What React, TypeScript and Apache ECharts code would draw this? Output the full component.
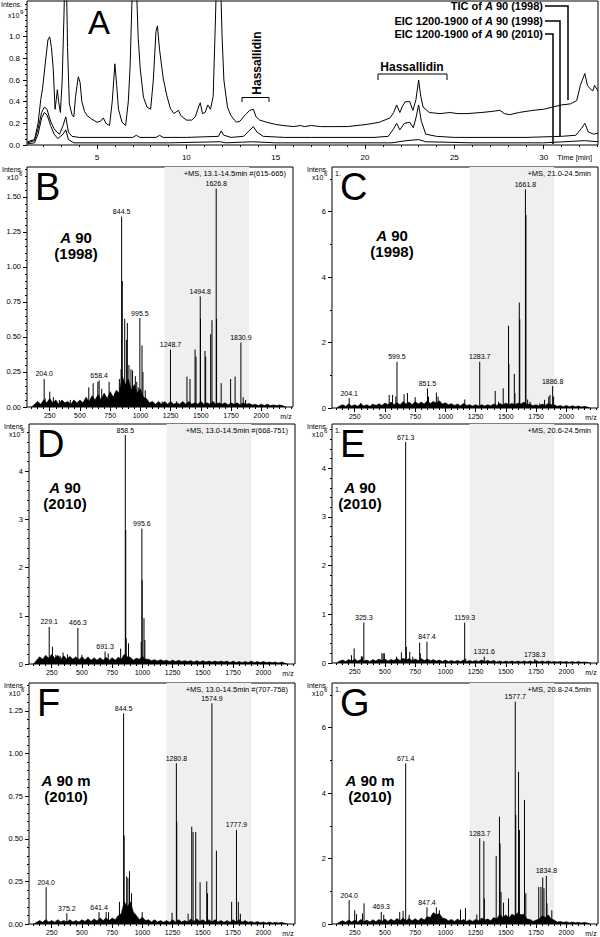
import React, { useEffect, useRef } from "react";
import * as echarts from "echarts";

const FONT = '"Liberation Sans", Arial, Helvetica, sans-serif';

// ---------- Panel A : chromatograms  [time (min), intensity x10^9]
const ticA90_1998: number[][] = [
  [1.1, 0.03], [1.5, 0.05], [1.7, 0.2], [1.85, 0.42], [1.95, 0.52], [2.1, 0.75], [2.25, 0.97], [2.35, 1.0], [2.45, 0.9],
  [2.55, 0.7], [2.65, 0.33], [2.72, 0.42], [2.78, 0.51], [2.85, 0.4], [2.95, 0.3], [3.05, 0.6], [3.15, 1.2], [3.2, 1.6],
  [3.28, 1.6], [3.35, 0.9], [3.45, 0.38], [3.6, 0.28], [3.7, 0.26], [3.8, 0.45], [3.95, 0.63], [4.05, 0.58], [4.15, 0.4],
  [4.3, 0.31], [4.45, 0.27], [4.7, 0.24], [5.0, 0.21], [5.2, 0.22], [5.35, 0.25], [5.5, 0.2], [5.7, 0.18], [5.85, 0.4],
  [6.0, 0.75], [6.1, 0.55], [6.2, 0.33], [6.4, 0.21], [6.6, 0.18], [6.75, 0.4], [6.85, 0.72], [6.95, 1.3], [7.05, 1.6],
  [7.2, 1.5], [7.3, 1.0], [7.42, 0.7], [7.6, 0.44], [7.8, 0.35], [8.0, 0.33], [8.15, 0.6], [8.3, 1.05], [8.38, 1.1],
  [8.5, 0.88], [8.7, 0.62], [8.9, 0.46], [9.1, 0.34], [9.3, 0.29], [9.55, 0.32], [9.7, 0.27], [10.0, 0.23], [10.3, 0.23],
  [10.5, 0.26], [10.7, 0.36], [10.78, 0.39], [10.9, 0.29], [11.05, 0.3], [11.2, 0.37], [11.35, 0.33], [11.5, 0.45],
  [11.6, 1.0], [11.7, 1.6], [11.9, 1.6], [12.0, 1.0], [12.1, 0.6], [12.3, 0.35], [12.5, 0.27], [12.8, 0.21], [13.0, 0.22],
  [13.3, 0.28], [13.55, 0.32], [13.75, 0.33], [13.9, 0.26], [14.1, 0.23], [14.5, 0.21], [15.0, 0.19], [15.4, 0.18],
  [16.0, 0.17], [16.4, 0.18], [16.6, 0.17], [17.0, 0.18], [17.5, 0.17], [18.2, 0.17], [19.0, 0.17], [20.1, 0.19],
  [20.8, 0.21], [21.4, 0.25], [21.6, 0.3], [21.77, 0.37], [21.95, 0.3], [22.1, 0.36], [22.25, 0.4], [22.5, 0.4],
  [22.68, 0.32], [22.85, 0.42], [23.0, 0.6], [23.12, 0.45], [23.25, 0.35], [23.6, 0.3], [24.2, 0.29], [24.75, 0.3],
  [25.2, 0.29], [25.7, 0.29], [26.5, 0.3], [27.1, 0.31], [27.55, 0.32], [27.8, 0.29], [28.1, 0.28], [28.6, 0.3],
  [29.4, 0.32], [30.0, 0.33], [30.5, 0.35], [31.0, 0.37], [31.5, 0.38], [31.85, 0.41], [32.05, 0.55], [32.3, 0.66],
  [32.45, 0.55], [32.6, 0.52], [32.75, 0.5], [32.85, 0.55], [33.04, 0.5],
];
const eicA90_1998: number[][] = [
  [1.1, 0.02], [1.5, 0.04], [1.7, 0.15], [1.9, 0.3], [2.05, 0.35], [2.2, 0.33], [2.4, 0.22], [2.6, 0.15], [2.75, 0.12],
  [2.9, 0.1], [3.1, 0.18], [3.25, 0.26], [3.4, 0.12], [3.6, 0.08], [4.0, 0.07], [5.0, 0.07], [6.0, 0.07], [7.0, 0.07],
  [7.2, 0.09], [7.4, 0.07], [8.3, 0.07], [8.5, 0.09], [8.7, 0.07], [10.0, 0.07], [11.8, 0.08], [11.95, 0.13], [12.1, 0.09],
  [12.5, 0.07], [13.2, 0.08], [13.5, 0.13], [13.75, 0.17], [13.95, 0.12], [14.3, 0.08], [15.5, 0.07], [17.0, 0.07],
  [19.0, 0.07], [20.5, 0.07], [21.3, 0.08], [21.6, 0.15], [21.77, 0.2], [21.95, 0.14], [22.2, 0.2], [22.5, 0.21],
  [22.7, 0.16], [22.85, 0.25], [23.0, 0.37], [23.15, 0.22], [23.4, 0.1], [24.0, 0.08], [25.0, 0.07], [27.0, 0.07],
  [29.0, 0.07], [31.0, 0.08], [31.8, 0.09], [32.1, 0.15], [32.3, 0.2], [32.5, 0.12], [32.8, 0.1], [33.04, 0.11],
];
const eicA90_2010: number[][] = [
  [1.1, 0.01], [1.5, 0.02], [1.7, 0.1], [1.9, 0.25], [2.05, 0.3], [2.2, 0.28], [2.4, 0.18], [2.6, 0.1], [2.8, 0.06],
  [3.1, 0.1], [3.25, 0.14], [3.4, 0.05], [3.7, 0.02], [5.0, 0.02], [7.0, 0.02], [9.0, 0.02], [11.9, 0.03], [12.2, 0.02],
  [13.7, 0.03], [15.0, 0.02], [18.0, 0.02], [21.5, 0.02], [22.3, 0.04], [23.0, 0.05], [23.4, 0.03], [26.0, 0.02],
  [30.0, 0.02], [32.3, 0.04], [33.04, 0.03],
];
const timeLabels = [5, 10, 15, 20, 25, 30];
const aYLabels = [0, 0.2, 0.4, 0.6, 0.8, 1.0];

// ---------- Mass spectra  [m/z, intensity]
const mzLabels = [250, 500, 750, 1000, 1250, 1500, 1750, 2000];
// baseline "grass" heights, read every 25 m/z from m/z 100 to 2200
const GRASS_START = 100;
const GRASS_STEP = 25;

// B: A 90 (1998), 13.1-14.5 min, x10^6
const bPeaks = [[204.0, 0.2], [658.4, 0.19], [844.5, 1.36], [995.5, 0.635], [1248.7, 0.41], [1494.8, 0.79], [1626.8, 1.56], [1830.9, 0.46]];
const bSticks = [
  [213, 0.06], [250, 0.11], [280, 0.07], [330, 0.05], [420, 0.05], [573, 0.14], [609, 0.17], [648, 0.18], [680, 0.13],
  [741, 0.18], [790, 0.1], [826, 0.2], [840, 0.27], [850, 0.9], [870, 0.63], [884, 0.48], [892, 0.6], [905, 0.3],
  [922, 0.27], [935, 0.26], [958, 0.22], [970, 0.18], [982, 0.14], [1013, 0.44], [1021, 0.25], [1040, 0.12],
  [1180, 0.04], [1300, 0.04], [1385, 0.217], [1410, 0.2], [1452, 0.41], [1460, 0.36], [1497, 0.63], [1534, 0.4],
  [1540, 0.36], [1581, 0.52], [1592, 0.62], [1630, 0.63], [1668, 0.17], [1746, 0.2], [1783, 0.217], [1850, 0.07], [1870, 0.05],
];
const bGrass = [
  0, 0.02, 0.04, 0.02, 0.05, 0.03, 0.06, 0.03, 0.05, 0.02, 0.05, 0.03, 0.04, 0.02, 0.05, 0.03, 0.05, 0.03, 0.07, 0.04,
  0.08, 0.05, 0.09, 0.05, 0.1, 0.06, 0.11, 0.07, 0.12, 0.1, 0.22, 0.16, 0.2, 0.12, 0.16, 0.1, 0.13, 0.07, 0.06, 0.03,
  0.04, 0.02, 0.04, 0.02, 0.04, 0.02, 0.04, 0.02, 0.03, 0.02, 0.04, 0.02, 0.04, 0.02, 0.03, 0.02, 0.04, 0.02, 0.03, 0.02,
  0.04, 0.02, 0.03, 0.02, 0.03, 0.015, 0.03, 0.02, 0.03, 0.015, 0.03, 0.02, 0.025, 0.015, 0.02, 0.01, 0.02, 0.01, 0.02, 0.01,
  0.015, 0.01, 0.015, 0.01, 0,
];

// C: A 90 (1998), 21.0-24.5 min, x10^6
const cPeaks = [[204.1, 0.3], [599.5, 1.41], [851.5, 0.6], [1283.7, 1.41], [1661.8, 6.68], [1886.8, 0.67]];
const cSticks = [
  [300, 0.15], [420, 0.1], [535, 0.4], [563, 0.4], [590, 0.35], [658, 0.42], [686, 0.46], [750, 0.33], [860, 0.35],
  [925, 0.47], [939, 0.35], [1160, 0.26], [1412, 0.52], [1440, 0.19], [1478, 0.6], [1522, 2.51], [1525, 1.34],
  [1570, 1.04], [1575, 0.45], [1611, 3.22], [1615, 2.71], [1666, 5.9], [1680, 0.26], [1700, 0.19], [1780, 0.14],
  [1820, 0.25], [1855, 0.35], [1865, 0.4], [1895, 0.35],
];
const cGrass = [
  0, 0.06, 0.1, 0.05, 0.12, 0.06, 0.1, 0.05, 0.13, 0.06, 0.1, 0.05, 0.12, 0.07, 0.13, 0.08, 0.15, 0.1, 0.18, 0.1,
  0.16, 0.1, 0.2, 0.12, 0.18, 0.1, 0.2, 0.12, 0.18, 0.12, 0.22, 0.14, 0.2, 0.15, 0.22, 0.12, 0.16, 0.1, 0.13, 0.08,
  0.12, 0.07, 0.14, 0.08, 0.1, 0.06, 0.1, 0.06, 0.1, 0.06, 0.1, 0.07, 0.12, 0.08, 0.14, 0.09, 0.15, 0.1, 0.14, 0.1,
  0.15, 0.12, 0.18, 0.1, 0.12, 0.07, 0.1, 0.06, 0.12, 0.08, 0.14, 0.1, 0.1, 0.05, 0.08, 0.04, 0.08, 0.04, 0.07, 0.04,
  0.06, 0.03, 0.05, 0.03, 0,
];

// D: A 90 (2010), 13.0-14.5 min, x10^5
const dPeaks = [[229.1, 0.77], [466.3, 0.75], [691.3, 0.26], [858.5, 4.75], [995.6, 2.81]];
const dSticks = [
  [207, 0.15], [256, 0.36], [284, 0.19], [320, 0.17], [344, 0.24], [380, 0.2], [500, 0.19], [550, 0.15], [717, 0.22],
  [820, 0.32], [862, 2.78], [866, 0.53], [885, 0.43], [990, 0.46], [998, 1.74], [1013, 0.95], [1020, 0.5],
];
const dGrass = [
  0, 0.08, 0.15, 0.1, 0.18, 0.12, 0.2, 0.12, 0.18, 0.1, 0.17, 0.1, 0.16, 0.1, 0.15, 0.09, 0.15, 0.09, 0.14, 0.08,
  0.13, 0.08, 0.13, 0.08, 0.14, 0.08, 0.13, 0.08, 0.14, 0.1, 0.2, 0.15, 0.14, 0.08, 0.12, 0.1, 0.16, 0.1, 0.1, 0.07,
  0.09, 0.06, 0.09, 0.06, 0.08, 0.05, 0.08, 0.05, 0.08, 0.05, 0.07, 0.05, 0.07, 0.04, 0.07, 0.04, 0.07, 0.04, 0.06, 0.04,
  0.06, 0.04, 0.06, 0.04, 0.06, 0.03, 0.06, 0.03, 0.05, 0.03, 0.05, 0.03, 0.06, 0.03, 0.05, 0.03, 0.05, 0.03, 0.04, 0.03,
  0.04, 0.02, 0.04, 0.02, 0,
];

// E: A 90 (2010), 20.6-24.5 min, x10^6
const ePeaks = [[325.3, 0.83], [671.3, 4.54], [847.4, 0.44], [1159.3, 0.83], [1321.6, 0.13], [1738.3, 0.08]];
const eSticks = [
  [223, 0.16], [245, 0.3], [305, 0.14], [315, 0.13], [475, 0.2], [485, 0.2], [495, 0.2], [595, 0.13], [636, 0.22],
  [677, 0.33], [705, 0.23], [730, 0.13], [787, 0.42], [792, 0.2], [870, 0.07], [1168, 0.09],
];
const eGrass = [
  0, 0.04, 0.06, 0.03, 0.07, 0.04, 0.08, 0.04, 0.07, 0.04, 0.06, 0.03, 0.07, 0.04, 0.08, 0.05, 0.08, 0.04, 0.07, 0.05,
  0.09, 0.05, 0.1, 0.06, 0.09, 0.05, 0.08, 0.05, 0.09, 0.05, 0.08, 0.04, 0.07, 0.04, 0.06, 0.03, 0.06, 0.03, 0.05, 0.03,
  0.05, 0.03, 0.06, 0.03, 0.05, 0.03, 0.05, 0.03, 0.06, 0.03, 0.05, 0.03, 0.05, 0.02, 0.04, 0.02, 0.04, 0.02, 0.04, 0.02,
  0.04, 0.02, 0.04, 0.02, 0.04, 0.02, 0.05, 0.02, 0.04, 0.02, 0.04, 0.02, 0.03, 0.02, 0.03, 0.02, 0.03, 0.015, 0.03, 0.015,
  0.03, 0.015, 0.02, 0.015, 0,
];

// F: A 90 m (2010), 13.0-14.5 min, x10^6
const fPeaks = [[204.0, 0.215], [375.2, 0.063], [641.4, 0.07], [844.5, 1.236], [1280.8, 0.943], [1574.9, 1.295], [1777.9, 0.552]];
const fSticks = [
  [700, 0.07], [720, 0.07], [810, 0.13], [849, 0.52], [870, 0.28], [880, 0.27], [893, 0.31], [910, 0.18], [998, 0.07],
  [1245, 0.066], [1284, 0.6], [1378, 0.06], [1408, 0.571], [1419, 0.54], [1441, 0.54], [1477, 0.245], [1532, 0.25],
  [1538, 0.18], [1612, 0.43], [1738, 0.13], [1793, 0.13], [1810, 0.06],
];
const fGrass = [
  0, 0.01, 0.02, 0.01, 0.025, 0.012, 0.02, 0.01, 0.025, 0.012, 0.02, 0.012, 0.025, 0.012, 0.02, 0.012, 0.025, 0.015, 0.03, 0.015,
  0.03, 0.018, 0.035, 0.02, 0.035, 0.02, 0.035, 0.025, 0.05, 0.06, 0.13, 0.1, 0.13, 0.07, 0.05, 0.025, 0.04, 0.02, 0.025, 0.012,
  0.025, 0.012, 0.02, 0.01, 0.02, 0.01, 0.025, 0.012, 0.025, 0.012, 0.02, 0.012, 0.03, 0.015, 0.03, 0.015, 0.025, 0.012, 0.025, 0.012,
  0.025, 0.012, 0.02, 0.01, 0.02, 0.01, 0.025, 0.012, 0.025, 0.012, 0.02, 0.01, 0.015, 0.008, 0.015, 0.008, 0.012, 0.006, 0.012, 0.006,
  0.01, 0.006, 0.01, 0.005, 0,
];

// G: A 90 m (2010), 20.8-24.5 min, x10^6
const gPeaks = [[204.0, 0.73], [469.3, 0.37], [671.4, 4.9], [847.4, 0.51], [1283.7, 2.62], [1577.7, 6.79], [1834.8, 1.47]];
const gSticks = [
  [250, 0.42], [265, 0.3], [314, 0.32], [327, 0.63], [490, 0.28], [622, 0.37], [650, 0.4], [700, 0.28], [925, 0.51],
  [950, 0.42], [1125, 0.44], [1166, 0.49], [1260, 0.29], [1318, 2.53], [1322, 0.78], [1420, 2.08], [1447, 3.28],
  [1452, 2.46], [1460, 0.98], [1480, 0.65], [1522, 0.78], [1582, 3.33], [1605, 4.65], [1612, 2.87], [1654, 3.79],
  [1665, 0.94], [1772, 1.13], [1790, 1.13], [1805, 1.42], [1815, 1.09], [1840, 0.63], [1880, 0.42],
];
const gGrass = [
  0, 0.06, 0.1, 0.05, 0.12, 0.06, 0.12, 0.06, 0.14, 0.07, 0.12, 0.06, 0.13, 0.07, 0.14, 0.08, 0.15, 0.08, 0.15, 0.09,
  0.17, 0.1, 0.18, 0.1, 0.17, 0.1, 0.16, 0.1, 0.18, 0.12, 0.22, 0.2, 0.35, 0.28, 0.32, 0.18, 0.16, 0.1, 0.14, 0.08,
  0.15, 0.09, 0.14, 0.08, 0.13, 0.08, 0.14, 0.1, 0.18, 0.12, 0.15, 0.1, 0.2, 0.15, 0.3, 0.2, 0.28, 0.18, 0.3, 0.25,
  0.35, 0.28, 0.3, 0.15, 0.14, 0.08, 0.12, 0.15, 0.25, 0.2, 0.28, 0.15, 0.12, 0.06, 0.08, 0.05, 0.07, 0.04, 0.06, 0.04,
  0.05, 0.03, 0.05, 0.03, 0,
];

function ticksBetween(a: number, b: number, s: number) {
  const r: number[] = [];
  for (let i = 0; a + i * s <= b + 1e-9; i++) r.push(Math.round((a + i * s) * 1000) / 1000);
  return r;
}

type Panel = {
  letter: string; left: number; top: number; width: number; height: number; yMax: number;
  yLabels: number[]; yStep: number; dec: number; exp: string;
  peaks: number[][]; sticks: number[][]; grass: number[];
  header: string; one: boolean; line1: string; line2: string; sx: number; sy: number;
};

const panels: Panel[] = [
  { letter: "B", left: 27, top: 167, width: 266, height: 240, yMax: 1.714, yLabels: [0, 0.25, 0.5, 0.75, 1, 1.25, 1.5], yStep: 0.05, dec: 2, exp: "6",
    peaks: bPeaks, sticks: bSticks, grass: bGrass, header: "+MS, 13.1-14.5min #(615-665)", one: false, line1: "{i|A} 90", line2: "(1998)", sx: 76, sy: 237 },
  { letter: "C", left: 332, top: 167, width: 266, height: 241, yMax: 7.36, yLabels: [0, 2, 4, 6], yStep: 1, dec: 0, exp: "6",
    peaks: cPeaks, sticks: cSticks, grass: cGrass, header: "+MS, 21.0-24.5min", one: true, line1: "{i|A} 90", line2: "(1998)", sx: 392, sy: 235 },
  { letter: "D", left: 29, top: 424, width: 266, height: 240, yMax: 4.98, yLabels: [0, 1, 2, 3, 4], yStep: 0.2, dec: 0, exp: "5",
    peaks: dPeaks, sticks: dSticks, grass: dGrass, header: "+MS, 13.0-14.5min #(668-751)", one: false, line1: "{i|A} 90", line2: "(2010)", sx: 65, sy: 487 },
  { letter: "E", left: 332, top: 424, width: 266, height: 239, yMax: 4.91, yLabels: [0, 1, 2, 3, 4], yStep: 0.2, dec: 0, exp: "6",
    peaks: ePeaks, sticks: eSticks, grass: eGrass, header: "+MS, 20.6-24.5min", one: true, line1: "{i|A} 90", line2: "(2010)", sx: 360, sy: 487 },
  { letter: "F", left: 29, top: 683, width: 266, height: 241, yMax: 1.414, yLabels: [0, 0.25, 0.5, 0.75, 1, 1.25], yStep: 0.05, dec: 2, exp: "6",
    peaks: fPeaks, sticks: fSticks, grass: fGrass, header: "+MS, 13.0-14.5min #(707-758)", one: false, line1: "{i|A} 90 m", line2: "(2010)", sx: 66, sy: 780 },
  { letter: "G", left: 332, top: 683, width: 266, height: 241, yMax: 7.36, yLabels: [0, 2, 4, 6], yStep: 1, dec: 0, exp: "6",
    peaks: gPeaks, sticks: gSticks, grass: gGrass, header: "+MS, 20.8-24.5min", one: true, line1: "{i|A} 90 m", line2: "(2010)", sx: 370, sy: 780 },
];

const MZ_MIN = 62;
const MZ_MAX = 2262;

function axisPair(dim: "x" | "y", gi: number, min: number, max: number, labels: number[], ticks: number[],
  fmt: (v: number) => string, margin: number, fontSize: number) {
  const base: any = {
    type: "value", gridIndex: gi, min, max, position: dim === "x" ? "bottom" : "left",
    splitLine: { show: false }, axisLine: { show: false },
  };
  return [
    { ...base, axisTick: { show: true, length: 4, customValues: labels, lineStyle: { color: "#000", width: 1 } },
      axisLabel: { show: true, customValues: labels, margin, fontSize, color: "#000", fontFamily: FONT, formatter: fmt } },
    { ...base, axisTick: { show: true, length: 2, customValues: ticks, lineStyle: { color: "#000", width: 1 } },
      axisLabel: { show: false } },
  ];
}

function stickRender(params: any, api: any) {
  const x = api.value(0);
  const y = api.value(1);
  const a = api.coord([x, 0]);
  const b = api.coord([x, y]);
  return { type: "line", shape: { x1: a[0], y1: a[1], x2: b[0], y2: b[1] }, style: { stroke: "#000", lineWidth: 1 } };
}

function peakRender(params: any, api: any) {
  const x = api.value(0);
  const y = api.value(1);
  const a = api.coord([x, 0]);
  const b = api.coord([x, y]);
  return {
    type: "group",
    children: [
      { type: "line", shape: { x1: a[0], y1: a[1], x2: b[0], y2: b[1] }, style: { stroke: "#000", lineWidth: 1 } },
      { type: "text", x: b[0], y: b[1] - 1.5,
        style: { text: Number(x).toFixed(1), fill: "#000", fontSize: 7, fontFamily: FONT, align: "center", verticalAlign: "bottom" } },
    ],
  };
}

function txt(x: number, y: number, text: string, o: any = {}) {
  return {
    type: "text", x, y, z: 100, silent: true, rotation: o.rotation || 0,
    style: {
      text, fill: "#000", fontFamily: FONT, fontSize: o.fontSize || 8, fontWeight: o.fontWeight || "normal",
      align: o.align || "left", verticalAlign: o.verticalAlign || "middle", rich: o.rich,
    },
  };
}

function poly(points: number[][], w: number) {
  return { type: "polyline", z: 100, silent: true, shape: { points }, style: { stroke: "#000", lineWidth: w, fill: null } };
}

function buildOption() {
  const grid: any[] = [];
  const xAxis: any[] = [];
  const yAxis: any[] = [];
  const series: any[] = [];
  const graphic: any[] = [];

  // ---- Panel A
  grid.push({ left: 27, top: 1, width: 571, height: 144, show: true, borderColor: "#000", borderWidth: 1, backgroundColor: "transparent" });
  xAxis.push(...axisPair("x", 0, 1.08, 33.04, timeLabels, ticksBetween(2, 33, 1), (v) => String(v), 8, 8));
  yAxis.push(...axisPair("y", 0, 0, 1.33, aYLabels, ticksBetween(0.05, 1.3, 0.05), (v) => v.toFixed(1), 7, 8));
  [ticA90_1998, eicA90_1998, eicA90_2010].forEach((d) => {
    series.push({ type: "line", xAxisIndex: 0, yAxisIndex: 0, data: d, symbol: "none", clip: true,
      lineStyle: { color: "#000", width: 1 }, z: 3, silent: true });
  });
  graphic.push(txt(88, 22, "A", { fontSize: 33 }));
  graphic.push(txt(1, 4, "Intens.", { fontSize: 7 }));
  graphic.push(txt(8, 15, "x10", { fontSize: 7 }));
  graphic.push(txt(20, 12, "9", { fontSize: 6 }));
  graphic.push(txt(592, 157, "Time [min]", { fontSize: 7.5, align: "right" }));
  const rich = { i: { fontStyle: "italic", fontWeight: "bold", fontSize: 11, fontFamily: FONT, fill: "#000" } };
  graphic.push(txt(543, 6, "TIC of {i|A} 90 (1998)", { fontSize: 11, fontWeight: "bold", align: "right", rich }));
  graphic.push(txt(543, 21, "EIC 1200-1900 of {i|A} 90 (1998)", { fontSize: 11, fontWeight: "bold", align: "right", rich }));
  graphic.push(txt(543, 34, "EIC 1200-1900 of {i|A} 90 (2010)", { fontSize: 11, fontWeight: "bold", align: "right", rich }));
  graphic.push(poly([[545, 6], [568, 6], [568, 100]], 1.5));
  graphic.push(poly([[545, 21], [560, 21], [560, 136]], 1.5));
  graphic.push(poly([[545, 34], [553, 34], [553, 144]], 1.5));
  graphic.push(txt(257, 63, "Hassallidin", { fontSize: 12, fontWeight: "bold", align: "center", rotation: Math.PI / 2 }));
  graphic.push(poly([[242, 102], [242, 97.5], [269, 97.5], [269, 102]], 1));
  graphic.push(txt(412, 67, "Hassallidin", { fontSize: 12, fontWeight: "bold", align: "center" }));
  graphic.push(poly([[378, 80], [378, 74], [447, 74], [447, 80]], 1));

  // ---- Spectra panels
  panels.forEach((p, k) => {
    const gi = k + 1;
    const ax = gi * 2;
    grid.push({ left: p.left, top: p.top, width: p.width, height: p.height, show: true, borderColor: "#000", borderWidth: 1, backgroundColor: "transparent" });
    xAxis.push(...axisPair("x", gi, MZ_MIN, MZ_MAX, mzLabels, ticksBetween(100, 2250, 50), (v) => String(v), 5, 7));
    yAxis.push(...axisPair("y", gi, 0, p.yMax, p.yLabels, ticksBetween(0, p.yMax, p.yStep), (v) => v.toFixed(p.dec), 6, 7.5));
    // shaded m/z window 1200-1900
    series.push({
      type: "line", xAxisIndex: ax, yAxisIndex: ax, data: [], symbol: "none", z: 0, silent: true,
      markArea: { silent: true, itemStyle: { color: "#efefef" }, data: [[{ xAxis: 1200 }, { xAxis: 1900 }]] },
    });
    series.push({
      type: "line", xAxisIndex: ax, yAxisIndex: ax, data: p.grass.map((v, i) => [GRASS_START + GRASS_STEP * i, v]),
      symbol: "none", z: 2, silent: true,
      lineStyle: { color: "#000", width: 0.6 }, areaStyle: { color: "#000", opacity: 1 },
    });
    series.push({
      type: "custom", xAxisIndex: ax, yAxisIndex: ax, data: p.sticks, renderItem: stickRender,
      clip: true, z: 3, silent: true,
    });
    series.push({
      type: "custom", xAxisIndex: ax, yAxisIndex: ax, data: p.peaks, renderItem: peakRender,
      clip: false, z: 4, silent: true,
    });
    const L = p.left, T = p.top, R = p.left + p.width, B = p.top + p.height;
    graphic.push(txt(L + 8, T + 20, p.letter, { fontSize: 38 }));
    graphic.push(txt(L - 25, T + 2, "Intens.", { fontSize: 7 }));
    graphic.push(txt(L - 20, T + 10.5, "x10", { fontSize: 7 }));
    graphic.push(txt(L - 8, T + 7, p.exp, { fontSize: 6 }));
    graphic.push(txt(R - 7, T + 6, p.header, { fontSize: 7.5, align: "right" }));
    if (p.one) graphic.push(txt(L + 3, T + 6, "1.", { fontSize: 7 }));
    graphic.push(txt(R - 7, B + 9, "m/z", { fontSize: 7, align: "center" }));
    const r2 = { i: { fontStyle: "italic", fontWeight: "bold", fontSize: 15, fontFamily: FONT, fill: "#000" } };
    graphic.push(txt(p.sx, p.sy, p.line1, { fontSize: 15, fontWeight: "bold", align: "center", rich: r2 }));
    graphic.push(txt(p.sx, p.sy + 16, p.line2, { fontSize: 15, fontWeight: "bold", align: "center" }));
  });

  return { animation: false, backgroundColor: "#fff", grid, xAxis, yAxis, series, graphic };
}

export default function App() {
  const ref = useRef<HTMLDivElement>(null);
  useEffect(() => {
    if (!ref.current) return;
    const chart = echarts.init(ref.current, undefined, { renderer: "svg" });
    chart.setOption(buildOption() as any);
    return () => chart.dispose();
  }, []);
  return <div ref={ref} style={{ position: "absolute", left: 0, top: 0, width: 600, height: 937 }} />;
}
